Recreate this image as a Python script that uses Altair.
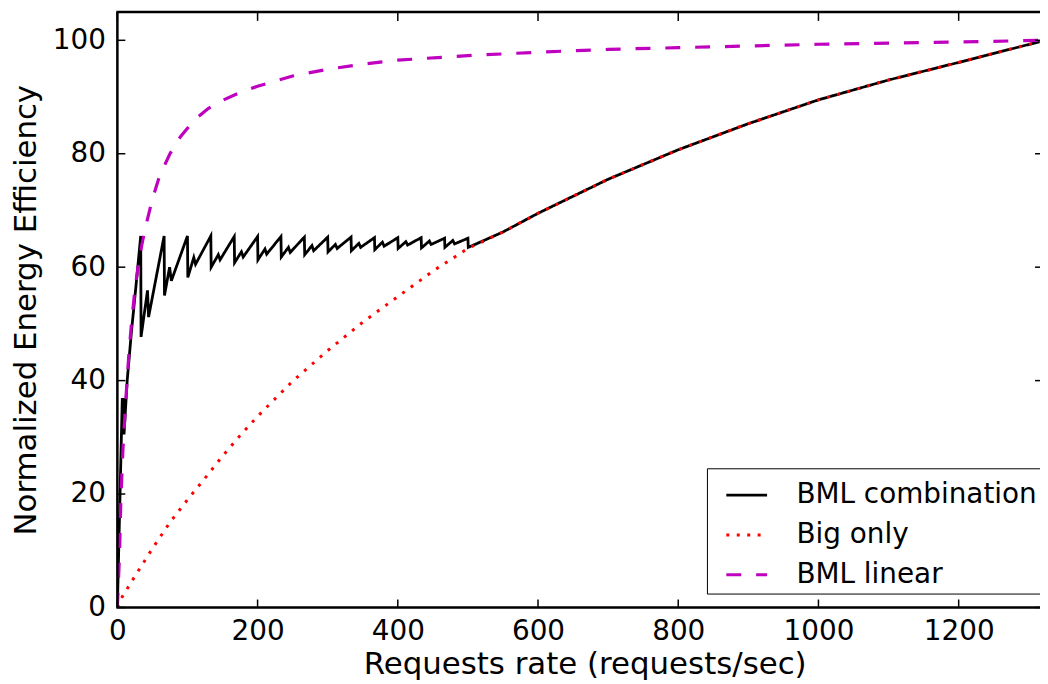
import altair as alt
import pandas as pd

# ---- data ----
series_names = ["BML combination", "Big only", "BML linear"]
series_colors = ["#000000", "#ff0000", "#bf00bf"]
series_dashes = [[1, 0], [3, 7.5], [15, 15]]

comb_x = [0, 7, 9, 9.5, 14, 20, 26, 33.3,
          33.8, 43, 44.5, 66.7,
          67.2, 74.5, 77, 100,
          100.5, 109, 111.5, 133.3,
          133.8, 144, 146.5, 166.7,
          167.2, 177, 179.5, 200,
          200.5, 210.5, 213, 233.3,
          233.8, 244, 246.5, 266.7,
          267.2, 277.5, 280, 300,
          300.5, 311, 313.5, 333.3,
          333.8, 344.5, 347, 366.7,
          367.2, 378, 380.5, 400,
          400.5, 411.5, 414, 433.3,
          433.8, 445, 447.5, 466.7,
          467.2, 478.5, 481, 500,
          500.5, 510, 550, 600, 700, 800, 900, 1000, 1100, 1200, 1320]
comb_y = [0, 36.7, 36.7, 30.5, 40, 48.5, 56, 65.5,
          47.7, 55.9, 51.2, 65.5,
          55.0, 60.0, 57.6, 65.5,
          58.2, 61.7, 60.5, 65.5,
          60.0, 62.2, 61.3, 65.4,
          60.8, 62.7, 61.8, 65.4,
          61.3, 63.2, 62.3, 65.4,
          61.8, 63.5, 62.6, 65.3,
          62.2, 63.8, 62.9, 65.3,
          62.7, 64.0, 63.3, 65.3,
          62.9, 64.2, 63.5, 65.2,
          63.1, 64.4, 63.7, 65.2,
          63.3, 64.5, 63.9, 65.2,
          63.4, 64.6, 64.0, 65.1,
          63.5, 64.7, 64.1, 65.1,
          63.5, 64.0, 66.2, 69.5, 75.5, 80.7, 85.3, 89.5, 93.0, 96.1, 99.9]

big_x = [0, 7, 25, 50, 75, 100, 125, 150, 175, 200, 250, 300, 350, 400, 450,
         500, 550, 600, 700, 800, 900, 1000, 1100, 1200, 1320]
big_y = [0, 1.9, 5.5, 10.4, 15.0, 19.0, 22.8, 26.7, 30.3, 33.7, 39.9, 45.3, 50.3,
         54.8, 59.3, 63.3, 66.2, 69.5, 75.5, 80.7, 85.3, 89.5, 93.0, 96.1, 99.9]

lin_x = [0, 3, 5, 8, 12, 16, 20, 25, 30, 35, 40, 50, 60, 75, 90, 110, 130, 150,
         175, 200, 250, 300, 350, 400, 500, 600, 700, 800, 900, 1000, 1100, 1200, 1320]
lin_y = [0, 9, 19, 28, 36.6, 44, 50, 56, 60.5, 64, 67, 72, 76, 80, 83, 86, 88, 89.4,
         90.8, 91.9, 93.7, 94.9, 95.8, 96.5, 97.3, 97.9, 98.4, 98.7, 99.0, 99.3, 99.5, 99.7, 100]

x_ticks = [0, 200, 400, 600, 800, 1000, 1200]
y_ticks = [0, 20, 40, 60, 80, 100]

# ---- layout ----
W, H = 928, 599
X_MAX, Y_MAX = 1316, 105
FONT = "DejaVu Sans"
TICK_FS, TITLE_FS, LEG_FS = 28, 31, 28

rows = []
for name, xs, ys in zip(series_names, [comb_x, big_x, lin_x], [comb_y, big_y, lin_y]):
    for i, (a, b) in enumerate(zip(xs, ys)):
        rows.append({"series": name, "x": a, "y": b, "order": i})
df = pd.DataFrame(rows)

xscale = alt.Scale(domain=[0, X_MAX], nice=False, zero=False)
yscale = alt.Scale(domain=[0, Y_MAX], nice=False)

xaxis = alt.Axis(values=x_ticks, format="d", grid=False, ticks=False, domain=False,
                 labelFlush=False,
                 labelFont=FONT, labelFontSize=TICK_FS, labelColor="black", labelPadding=10,
                 titleFont=FONT, titleFontSize=TITLE_FS, titleFontWeight="normal",
                 titleColor="black", titlePadding=4, titleX=470)
yaxis = alt.Axis(values=y_ticks, format="d", grid=False, ticks=False, domain=False,
                 labelFlush=False,
                 labelFont=FONT, labelFontSize=TICK_FS, labelColor="black", labelPadding=12,
                 titleFont=FONT, titleFontSize=TITLE_FS, titleFontWeight="normal",
                 titleColor="black", titlePadding=10)
XT = "Requests rate (requests/sec)"
YT = "Normalized Energy Efficiency"

leg = alt.Legend(title=None, orient="none", legendX=593, legendY=459,
                 strokeColor="black", fillColor="white", padding=5, cornerRadius=0,
                 labelFont=FONT, labelFontSize=LEG_FS, labelColor="black", labelLimit=0,
                 symbolType="stroke", symbolStrokeWidth=3, symbolSize=1681,
                 symbolOffset=13, labelOffset=28, rowPadding=4)
color = alt.Color("series:N", scale=alt.Scale(domain=series_names, range=series_colors), legend=leg)
dash = alt.StrokeDash("series:N", scale=alt.Scale(domain=series_names, range=series_dashes), legend=leg)

widths = {"BML combination": 2.8, "Big only": 3, "BML linear": 3.2}

def line_layer(name):
    return alt.Chart(df).transform_filter(alt.datum.series == name).mark_line(
        strokeWidth=widths[name], clip=True, strokeCap="butt"
    ).encode(
        x=alt.X("x:Q", scale=xscale, axis=xaxis, title=XT),
        y=alt.Y("y:Q", scale=yscale, axis=yaxis, title=YT),
        color=color, strokeDash=dash, order="order:Q",
    )

lines = [line_layer(n) for n in series_names]

ytick_df = pd.DataFrame({"y": y_ticks})
xtick_df = pd.DataFrame({"x": x_ticks})
one = pd.DataFrame({"a": [0]})

left_ticks = alt.Chart(ytick_df).mark_rule(color="black", strokeWidth=1.5).encode(
    y=alt.Y("y:Q", scale=yscale, axis=yaxis, title=YT), x=alt.value(0), x2=alt.value(8))
right_ticks = alt.Chart(ytick_df).mark_rule(color="black", strokeWidth=1.5).encode(
    y=alt.Y("y:Q", scale=yscale, axis=yaxis, title=YT), x=alt.value(W - 5), x2=alt.value(W))
bottom_ticks = alt.Chart(xtick_df).mark_rule(color="black", strokeWidth=1.5).encode(
    x=alt.X("x:Q", scale=xscale, axis=xaxis, title=XT), y=alt.value(H), y2=alt.value(H - 8))
top_ticks = alt.Chart(xtick_df).mark_rule(color="black", strokeWidth=1.5).encode(
    x=alt.X("x:Q", scale=xscale, axis=xaxis, title=XT), y=alt.value(0), y2=alt.value(9))

spine_left = alt.Chart(one).mark_rule(color="black", strokeWidth=2.5).encode(
    x=alt.value(0), y=alt.value(0), y2=alt.value(H))
spine_bottom = alt.Chart(one).mark_rule(color="black", strokeWidth=2.5).encode(
    x=alt.value(-1), x2=alt.value(W), y=alt.value(H))
spine_top = alt.Chart(one).mark_rule(color="black", strokeWidth=2.5).encode(
    x=alt.value(-1), x2=alt.value(W), y=alt.value(0))

chart = alt.layer(
    *lines, left_ticks, right_ticks, bottom_ticks, top_ticks,
    spine_left, spine_bottom, spine_top
).properties(
    width=W, height=H,
    autosize=alt.AutoSizeParams(type="none"),
    padding={"left": 110, "top": 2, "right": 0, "bottom": 74},
).configure_view(stroke=None).configure(background="white")

chart.save("out.html", embed_options={"renderer": "svg", "actions": False})
